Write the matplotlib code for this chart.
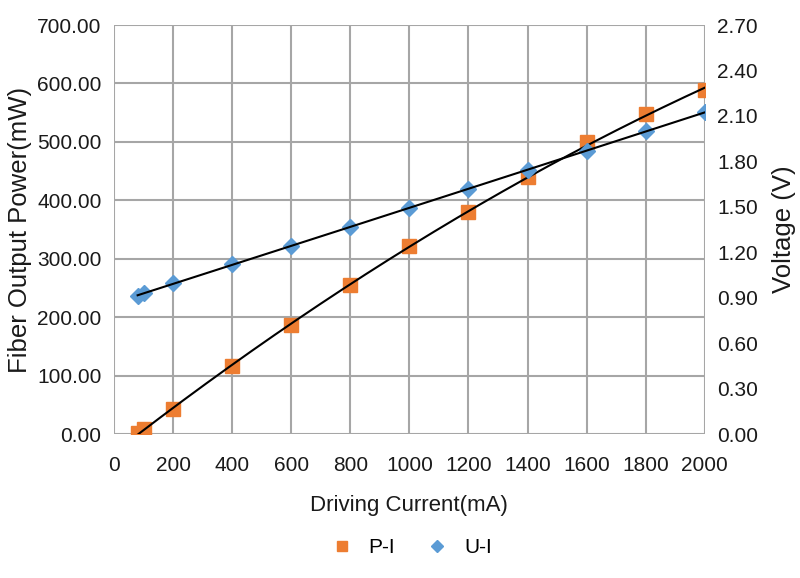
import numpy as np
import matplotlib
matplotlib.use("Agg")
import matplotlib.pyplot as plt
import matplotlib.ticker as ticker

plt.rcParams['font.family'] = ['Liberation Sans', 'DejaVu Sans']

# Data
current_ma = [80, 100, 200, 400, 600, 800, 1000, 1200, 1400, 1600, 1800, 2000]
power_mw = [1.0, 8.5, 43.5, 117.0, 187.0, 255.0, 321.0, 380.0, 440.0, 499.0, 547.0, 588.0]
voltage_v = [0.911, 0.929, 0.995, 1.12, 1.241, 1.368, 1.494, 1.617, 1.743, 1.87, 2.0, 2.123]

orange = '#ED7D31'
blue = '#5B9BD5'
grid_c = '#A6A6A6'
txt_c = '#1a1a1a'

fig = plt.figure(figsize=(8, 5.78), dpi=100)
ax = fig.add_axes([0.1425, 0.249, 0.7385, 0.7077])
ax2 = ax.twinx()

x = np.array(current_ma, dtype=float)
xs = np.linspace(x.min(), x.max(), 200)

# polynomial trend lines (like the spreadsheet trendline)
pp = np.polyfit(x, power_mw, 2)
pv = np.polyfit(x, voltage_v, 2)
ax.plot(xs, np.polyval(pp, xs), color='black', lw=1.5, zorder=3)
ax2.plot(xs, np.polyval(pv, xs), color='black', lw=1.5, zorder=3)

h1, = ax.plot(x, power_mw, 's', color=orange, ms=9.5, zorder=2, label='P-I')
h2, = ax2.plot(x, voltage_v, 'D', color=blue, ms=8, zorder=2, label='U-I')

ax.set_xlim(0, 2000)
ax.set_ylim(0, 700)
ax2.set_ylim(0, 2.7)
ax.xaxis.set_major_locator(ticker.MultipleLocator(200))
ax.yaxis.set_major_locator(ticker.MultipleLocator(100))
ax2.yaxis.set_major_locator(ticker.MultipleLocator(0.3))
ax.yaxis.set_major_formatter(ticker.FormatStrFormatter('%.2f'))
ax2.yaxis.set_major_formatter(ticker.FormatStrFormatter('%.2f'))

ax.grid(True, color=grid_c, lw=1.5)
ax.set_axisbelow(True)
for a in (ax, ax2):
    for s in a.spines.values():
        s.set_visible(False)
    a.tick_params(length=0, labelsize=15, colors=txt_c)
ax.tick_params(axis='x', pad=16)
ax.tick_params(axis='y', pad=9)
ax2.tick_params(axis='y', pad=9)

ax.set_xlabel('Driving Current(mA)', fontsize=16, color=txt_c, labelpad=14)
ax.set_ylabel('Fiber Output Power(mW)', fontsize=18.5, color=txt_c, labelpad=4)
ax2.set_ylabel('Voltage (V)', fontsize=18.5, color=txt_c, labelpad=10)

fig.legend(handles=[h1, h2], loc='center', bbox_to_anchor=(0.513, 0.052), ncol=2,
           frameon=False, fontsize=15, handletextpad=0.7, columnspacing=1.4,
           markerscale=0.8, handlelength=1.2)

fig.savefig('out.png', dpi=100)
